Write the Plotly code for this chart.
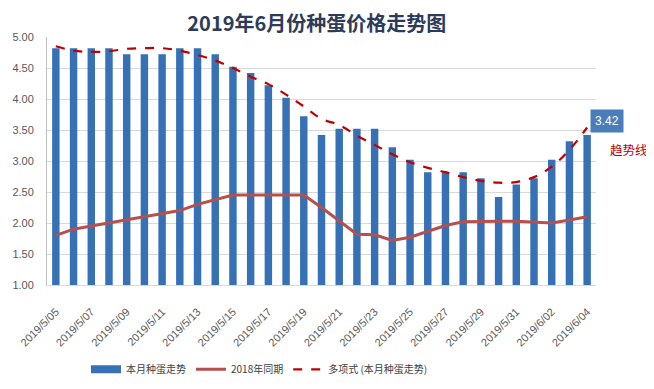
import plotly.graph_objects as go

dates = ["2019/5/%02d" % d for d in range(5, 32)] + ["2019/6/%02d" % d for d in range(1, 5)]
tick_dates = dates[::2]

this_month = [4.82, 4.82, 4.82, 4.82, 4.72, 4.72, 4.72, 4.82, 4.82, 4.72,
              4.52, 4.42, 4.22, 4.02, 3.72, 3.42, 3.52, 3.52, 3.52, 3.22,
              3.02, 2.82, 2.82, 2.82, 2.72, 2.42, 2.62, 2.72, 3.02, 3.32, 3.42]
same_2018 = [1.80, 1.90, 1.95, 2.00, 2.05, 2.10, 2.15, 2.20, 2.30, 2.37,
             2.45, 2.45, 2.45, 2.45, 2.45, 2.25, 2.03, 1.82, 1.81, 1.72,
             1.77, 1.86, 1.96, 2.02, 2.03, 2.03, 2.03, 2.01, 2.00, 2.05, 2.10]
trend = [4.85, 4.78, 4.76, 4.77, 4.81, 4.82, 4.82, 4.78, 4.71, 4.62,
         4.50, 4.36, 4.24, 4.07, 3.88, 3.68, 3.58, 3.41, 3.26, 3.11,
         2.98, 2.89, 2.82, 2.74, 2.68, 2.65, 2.66, 2.74, 2.91, 3.18, 3.54]

BAR = "#3670B5"

fig = go.Figure()
fig.add_trace(go.Bar(x=dates, y=this_month, name="本月种蛋走势", showlegend=False,
                     marker=dict(color=BAR, line=dict(width=0))))
# legend entry drawn as a wide rectangle like the original
fig.add_trace(go.Scatter(x=[dates[0]], y=[None], name="本月种蛋走势", mode="lines",
                         line=dict(color=BAR, width=8)))
fig.add_trace(go.Scatter(x=dates, y=same_2018, name="2018年同期", mode="lines",
                         line=dict(color="#B5504D", width=3)))
fig.add_trace(go.Scatter(x=dates, y=trend, name="多项式 (本月种蛋走势)", mode="lines",
                         line=dict(color="#C00000", width=2.2, dash="dash", shape="spline")))

# page body has an 8px margin, so the figure is sized/offset to compensate
fig.update_layout(
    width=646, height=381,
    margin=dict(l=39, r=58, t=29, b=104, autoexpand=False),
    paper_bgcolor="white", plot_bgcolor="white",
    font=dict(family="Noto Sans CJK SC, Liberation Sans, sans-serif", color="#404040", size=10),
    title=dict(text="<b>2019年6月份种蛋价格走势图</b>", x=0.478, xanchor="center", y=0.958, yanchor="middle",
               font=dict(size=20, color="#2E3A59", family="Noto Sans CJK SC, sans-serif")),
    bargap=0.58,
    showlegend=True,
    legend=dict(orientation="h", x=0.071, xanchor="left", y=-0.34, yanchor="middle",
                font=dict(size=10, color="#404040"), itemwidth=30, traceorder="normal"),
    xaxis=dict(type="category", categoryorder="array", categoryarray=dates,
               range=[-0.5, len(dates) - 0.5], autorange=False,
               tickmode="array", tickvals=tick_dates, ticktext=tick_dates,
               tickangle=-45, tickfont=dict(size=11, color="#595959", family="Liberation Sans, sans-serif"),
               showline=True, linecolor="#D9D9D9", linewidth=1, showgrid=False, ticks="",
               automargin=False, ticklabelstandoff=15),
    yaxis=dict(range=[1, 5], dtick=0.5, tickformat=".2f",
               tickfont=dict(size=11, color="#595959", family="Liberation Sans, sans-serif"),
               showgrid=True, gridcolor="#D9D9D9", gridwidth=1,
               showline=True, linecolor="#BFBFBF", linewidth=1, zeroline=False, ticks="",
               automargin=False, ticklabelstandoff=10),
)

fig.add_annotation(x=dates[-1], y=3.42, text="3.42", showarrow=False,
                   xanchor="left", yanchor="bottom", xshift=3, yshift=2,
                   bgcolor="#4A7EBB", font=dict(color="white", size=12, family="Liberation Sans"),
                   borderpad=4)
fig.add_annotation(xref="paper", x=1.022, y=3.18, text="趋势线", showarrow=False,
                   xanchor="left", yanchor="middle",
                   font=dict(color="#C00000", size=12.5, family="Noto Sans CJK SC"))

fig.write_html("out.html")
